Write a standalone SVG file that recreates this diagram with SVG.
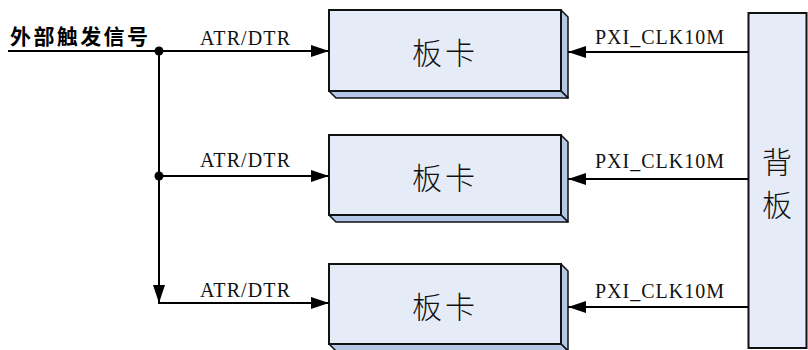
<svg xmlns="http://www.w3.org/2000/svg" width="808" height="350" viewBox="0 0 808 350">
<style>
.line{stroke:#000;stroke-width:2;fill:none}
.front{fill:#e6ecf7;stroke:#111;stroke-width:2}
.side{fill:#b4c7e7;stroke:#111;stroke-width:1.5;stroke-linejoin:round}
.lbl{font-family:"Liberation Serif","Times New Roman",serif;font-size:20px;fill:#111}
.cn{font-family:"Noto Sans CJK SC",sans-serif;font-size:30px;font-weight:300;fill:#111;text-anchor:middle}
.title{font-family:"Noto Sans CJK SC",sans-serif;font-size:21px;font-weight:bold;fill:#000}
</style>
<defs>
<marker id="arr" markerWidth="18" markerHeight="12" refX="18" refY="6" orient="auto" markerUnits="userSpaceOnUse">
<path d="M0,0 L18,6 L0,12 Z" fill="#000"/>
</marker>
</defs>
<g id="trigger-label">
<text class="title" x="10" y="44" textLength="138">外部触发信号</text>
</g>
<g id="card1">
<polygon class="side" points="561,10 568,17 568,98 561,91"/>
<polygon class="side" points="329,91 561,91 568,98 336,98"/>
<rect class="front" x="329" y="10" width="232" height="81"/>
<text class="cn" x="445" y="64" letter-spacing="3">板卡</text>
</g>
<g id="card2">
<polygon class="side" points="561,135 568,142 568,222 561,215"/>
<polygon class="side" points="329,215 561,215 568,222 336,222"/>
<rect class="front" x="329" y="135" width="232" height="80"/>
<text class="cn" x="445" y="189" letter-spacing="3">板卡</text>
</g>
<g id="card3">
<polygon class="side" points="561,264 568,271 568,351 561,344"/>
<polygon class="side" points="329,344 561,344 568,351 336,351"/>
<rect class="front" x="329" y="264" width="232" height="80"/>
<text class="cn" x="445" y="318" letter-spacing="3">板卡</text>
</g>
<g id="backplane">
<rect class="front" x="748.5" y="13" width="58" height="335"/>
<text class="cn" x="777" y="173">背</text>
<text class="cn" x="777" y="216">板</text>
</g>
<g id="connectors">
<line class="line" x1="8" y1="51" x2="329" y2="51" marker-end="url(#arr)"/>
<line class="line" x1="159" y1="51" x2="159" y2="303" marker-end="url(#arr)"/>
<line class="line" x1="159" y1="176" x2="329" y2="176" marker-end="url(#arr)"/>
<line class="line" x1="158" y1="303" x2="329" y2="303" marker-end="url(#arr)"/>
<circle cx="159" cy="51" r="4.5" fill="#000"/>
<circle cx="159" cy="176" r="4.5" fill="#000"/>
<line class="line" x1="748" y1="52" x2="568" y2="52" marker-end="url(#arr)"/>
<line class="line" x1="748" y1="179" x2="568" y2="179" marker-end="url(#arr)"/>
<line class="line" x1="748" y1="307" x2="568" y2="307" marker-end="url(#arr)"/>
<text class="lbl" x="200" y="45" textLength="90">ATR/DTR</text>
<text class="lbl" x="200" y="167" textLength="90">ATR/DTR</text>
<text class="lbl" x="200" y="297" textLength="90">ATR/DTR</text>
<text class="lbl" x="595" y="44" textLength="129">PXI_CLK10M</text>
<text class="lbl" x="595" y="168" textLength="129">PXI_CLK10M</text>
<text class="lbl" x="595" y="298" textLength="129">PXI_CLK10M</text>
</g>
</svg>
